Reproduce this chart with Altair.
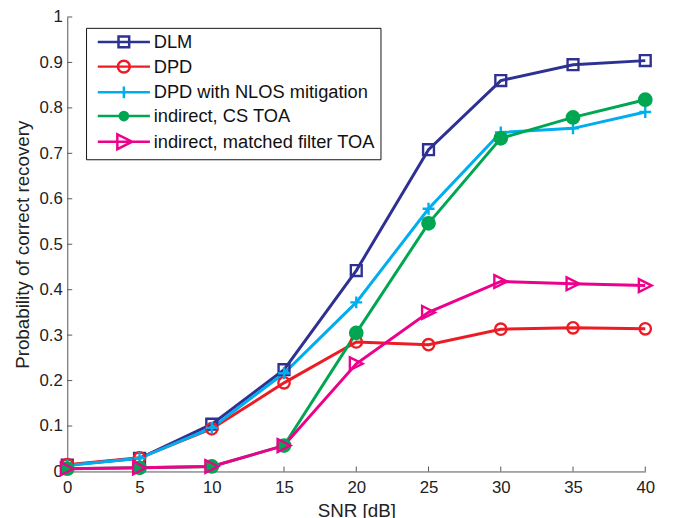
import altair as alt
import pandas as pd

snr = [0, 5, 10, 15, 20, 25, 30, 35, 40]
series_names = ["DLM", "DPD", "DPD with NLOS mitigation", "indirect, CS TOA",
                "indirect, matched filter TOA"]
dlm = [0.014, 0.029, 0.104, 0.224, 0.442, 0.708, 0.860, 0.895, 0.904]
dpd = [0.015, 0.030, 0.094, 0.195, 0.285, 0.279, 0.313, 0.316, 0.314]
dpd_nlos = [0.013, 0.029, 0.096, 0.216, 0.372, 0.578, 0.746, 0.755, 0.791]
cs_toa = [0.006, 0.008, 0.011, 0.057, 0.305, 0.546, 0.733, 0.779, 0.818]
mf_toa = [0.006, 0.008, 0.011, 0.057, 0.237, 0.350, 0.418, 0.413, 0.409]
values = [dlm, dpd, dpd_nlos, cs_toa, mf_toa]

xticks = [0, 5, 10, 15, 20, 25, 30, 35, 40]
yticks = [0, 0.1, 0.2, 0.3, 0.4, 0.5, 0.6, 0.7, 0.8, 0.9, 1]

colors = ["#2e3192", "#ed1c24", "#00aeef", "#00a651", "#ec008c"]
fills = ["transparent", "transparent", "transparent", "#00a651", "transparent"]
circ = "M-1,0A1,1,0,1,1,1,0A1,1,0,1,1,-1,0Z"
marker_paths = ["M-1,-1L1,-1L1,1L-1,1Z", circ, "M-1,0L1,0M0,-1L0,1", circ,
                "M-1,-1L1,0L-1,1Z"]
marker_sizes = [121, 169, 144, 60, 225]
seg = "M-4.4,0L4.4,0"
legend_paths = [seg + "M-0.9,-0.9L0.9,-0.9L0.9,0.9L-0.9,0.9Z",
                seg + "M-1,0A1,1,0,1,1,1,0A1,1,0,1,1,-1,0Z",
                seg + "M0,-1L0,1",
                seg + "M-0.7,0A0.7,0.7,0,1,1,0.7,0A0.7,0.7,0,1,1,-0.7,0Z",
                seg + "M-1.1,-1.25L1.4,0L-1.1,1.25Z"]

rows = []
for name, vals in zip(series_names, values):
    for s, v in zip(snr, vals):
        rows.append({"series": name, "snr": s, "prob": v})
df = pd.DataFrame(rows)

FONT = "Liberation Sans"
xscale = alt.Scale(domain=[0, 40], nice=False, zero=False)
yscale = alt.Scale(domain=[0, 1], nice=False)
dom = series_names

x_axis = alt.Axis(values=xticks, ticks=False, grid=False, domainColor="#555",
                  labelFont=FONT, labelFontSize=17, labelColor="#222",
                  labelPadding=8, labelFlush=False, labelOverlap=False,
                  title="SNR [dB]", titleFont=FONT, titleFontSize=19,
                  titleFontWeight="normal", titleColor="#222", titlePadding=7)
y_axis = alt.Axis(values=yticks, ticks=False, grid=False, domainColor="#555",
                  labelFont=FONT, labelFontSize=17, labelColor="#222",
                  labelPadding=5, labelFlush=False, labelOverlap=False, format="~g",
                  title="Probability of correct recovery", titleFont=FONT,
                  titleFontSize=19, titleFontWeight="normal", titleColor="#222",
                  titlePadding=7)

X = alt.X("snr:Q", scale=xscale, axis=x_axis)
Y = alt.Y("prob:Q", scale=yscale, axis=y_axis)

lines = alt.Chart(df).mark_line(strokeWidth=3).encode(
    x=X, y=Y,
    color=alt.Color("series:N", scale=alt.Scale(domain=dom, range=colors), legend=None),
    order=alt.Order("snr:Q"),
)

points = alt.Chart(df).mark_point(strokeWidth=2.4, opacity=1).encode(
    x=X, y=Y,
    stroke=alt.Stroke("series:N", scale=alt.Scale(domain=dom, range=colors), legend=None),
    fill=alt.Fill("series:N", scale=alt.Scale(domain=dom, range=fills), legend=None),
    shape=alt.Shape("series:N", scale=alt.Scale(domain=dom, range=marker_paths), legend=None),
    size=alt.Size("series:N", scale=alt.Scale(domain=dom, range=marker_sizes), legend=None),
)

leg = alt.Legend(orient="none", legendX=19, legendY=11, title=None,
                 fillColor="white", strokeColor="#111", padding=5, rowPadding=3,
                 symbolSize=144, symbolStrokeWidth=2.5, symbolOffset=24,
                 labelOffset=21, labelFont=FONT, labelFontSize=18.5,
                 labelColor="#111", labelLimit=400, cornerRadius=0)

legend_layer = alt.Chart(df).transform_filter("false").mark_point(
    strokeWidth=2.5, opacity=1).encode(
    x=X, y=Y,
    stroke=alt.Stroke("series:N", scale=alt.Scale(domain=dom, range=colors), legend=leg),
    fill=alt.Fill("series:N", scale=alt.Scale(domain=dom, range=fills), legend=leg),
    shape=alt.Shape("series:N", scale=alt.Scale(domain=dom, range=legend_paths), legend=leg),
)

xt = alt.Chart(pd.DataFrame({"snr": xticks})).mark_rule(color="#555", strokeWidth=1).encode(
    x=X, y=alt.value(460), y2=alt.value(455))
yt = alt.Chart(pd.DataFrame({"prob": yticks})).mark_rule(color="#555", strokeWidth=1).encode(
    y=Y, x=alt.value(0), x2=alt.value(5))

chart = alt.layer(xt, yt, lines, points, legend_layer).resolve_scale(
    stroke="independent", fill="independent", shape="independent", size="independent"
).properties(
    width=585, height=460,
    autosize=alt.AutoSizeParams(type="none"),
    padding={"left": 60, "top": 6, "right": 22, "bottom": 44},
).configure_view(stroke=None)

chart.save("out.html", embed_options={"renderer": "svg", "actions": False})
